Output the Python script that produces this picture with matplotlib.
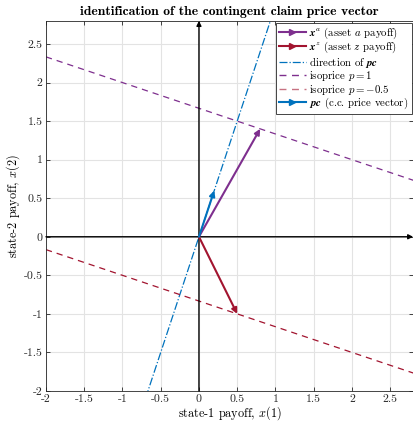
import numpy as np
import matplotlib.pyplot as plt
from matplotlib.lines import Line2D

plt.rcParams['font.family'] = ['cmr10', 'DejaVu Serif']
plt.rcParams['mathtext.fontset'] = 'cm'
plt.rcParams['axes.formatter.use_mathtext'] = True

# payoff vectors of the two assets and their prices
x_a = [0.8, 1.4]
x_z = [0.5, -1.0]
p_a = 1.0
p_z = -0.5

# solve pc . x = p for the contingent claim price vector
pc = np.linalg.solve(np.array([x_a, x_z]), np.array([p_a, p_z]))

xlim = (-2, 2.8)
ylim = (-2, 2.8)
ticks = [-2, -1.5, -1, -0.5, 0, 0.5, 1, 1.5, 2, 2.5]
tick_labels = ['-2', '-1.5', '-1', '-0.5', '0', '0.5', '1', '1.5', '2', '2.5']

c_a = '#7E2F8E'
c_z = '#A2142F'
c_pc = '#0072BD'

fig = plt.figure(figsize=(4.14, 4.22), dpi=100)
ax = fig.add_axes([0.111, 0.0735, 0.887, 0.877])

ax.set_xlim(*xlim)
ax.set_ylim(*ylim)
ax.set_xticks(ticks)
ax.set_yticks(ticks)
ax.set_xticklabels(tick_labels, fontsize=8.5)
ax.set_yticklabels(tick_labels, fontsize=8.5)
ax.grid(True, color='#e3e3e3', linewidth=0.8)
ax.set_axisbelow(True)
ax.tick_params(direction='in', length=3, top=True, right=True, colors='#262626',
               width=0.6, pad=2.5)
for s in ax.spines.values():
    s.set_color('#262626')
    s.set_linewidth(0.6)

# coordinate axes
arrow_kw = dict(arrowstyle='-|>', color='k', lw=1.0, mutation_scale=7, shrinkA=0, shrinkB=0)
ax.annotate('', xy=(xlim[1], 0), xytext=(xlim[0], 0), arrowprops=arrow_kw)
ax.annotate('', xy=(0, ylim[1]), xytext=(0, ylim[0]), arrowprops=arrow_kw)

xs = np.array(xlim)

# asset payoff vectors
ax.annotate('', xy=x_a, xytext=(0, 0),
            arrowprops=dict(arrowstyle='-|>', color=c_a, lw=1.5, mutation_scale=8,
                            shrinkA=0, shrinkB=0))
ax.annotate('', xy=x_z, xytext=(0, 0),
            arrowprops=dict(arrowstyle='-|>', color=c_z, lw=1.5, mutation_scale=8,
                            shrinkA=0, shrinkB=0))

# direction of pc and isoprice lines
ax.plot(xs, xs * pc[1] / pc[0], '-.', color=c_pc, lw=0.9)
ax.plot(xs, (p_a - pc[0] * xs) / pc[1], '--', color=c_a, lw=0.9, dashes=(5, 4))
ax.plot(xs, (p_z - pc[0] * xs) / pc[1], '--', color=c_z, lw=0.9, dashes=(5, 4))

ax.annotate('', xy=pc, xytext=(0, 0),
            arrowprops=dict(arrowstyle='-|>', color=c_pc, lw=1.5, mutation_scale=8,
                            shrinkA=0, shrinkB=0))

# legend proxies
handles = [
    Line2D([], [], color=c_a, lw=1.5, marker='>', markevery=[1], markersize=4),
    Line2D([], [], color=c_z, lw=1.5, marker='>', markevery=[1], markersize=4),
    Line2D([], [], color=c_pc, lw=0.9, ls='-.'),
    Line2D([], [], color=c_a, lw=1.0, ls='--', dashes=(5, 4)),
    Line2D([], [], color=c_z, lw=1.0, ls='--', dashes=(5, 4), alpha=0.6),
    Line2D([], [], color=c_pc, lw=1.5, marker='>', markevery=[1], markersize=4),
]
labels = [
    r'$\boldsymbol{x}^a$ (asset $a$ payoff)',
    r'$\boldsymbol{x}^z$ (asset $z$ payoff)',
    r'direction of $\boldsymbol{pc}$',
    r'isoprice $p=1$',
    r'isoprice $p=-0.5$',
    r'$\boldsymbol{pc}$ (c.c. price vector)',
]
leg = ax.legend(handles, labels, loc='upper right', fontsize=7.8, frameon=True,
                fancybox=False, edgecolor='#262626', framealpha=1,
                handlelength=2.5, handletextpad=0.35, labelspacing=-0.05,
                borderpad=0.25, borderaxespad=0.15)
leg.get_frame().set_linewidth(0.6)

ax.set_title('identification of the contingent claim price vector',
             fontsize=9.8, fontfamily='cmb10', pad=4)
ax.set_xlabel('state-1 payoff, $x(1)$', fontsize=8.8, labelpad=0)
ax.set_ylabel('state-2 payoff, $x(2)$', fontsize=8.8, labelpad=1)

fig.savefig('out.png', dpi=100)
